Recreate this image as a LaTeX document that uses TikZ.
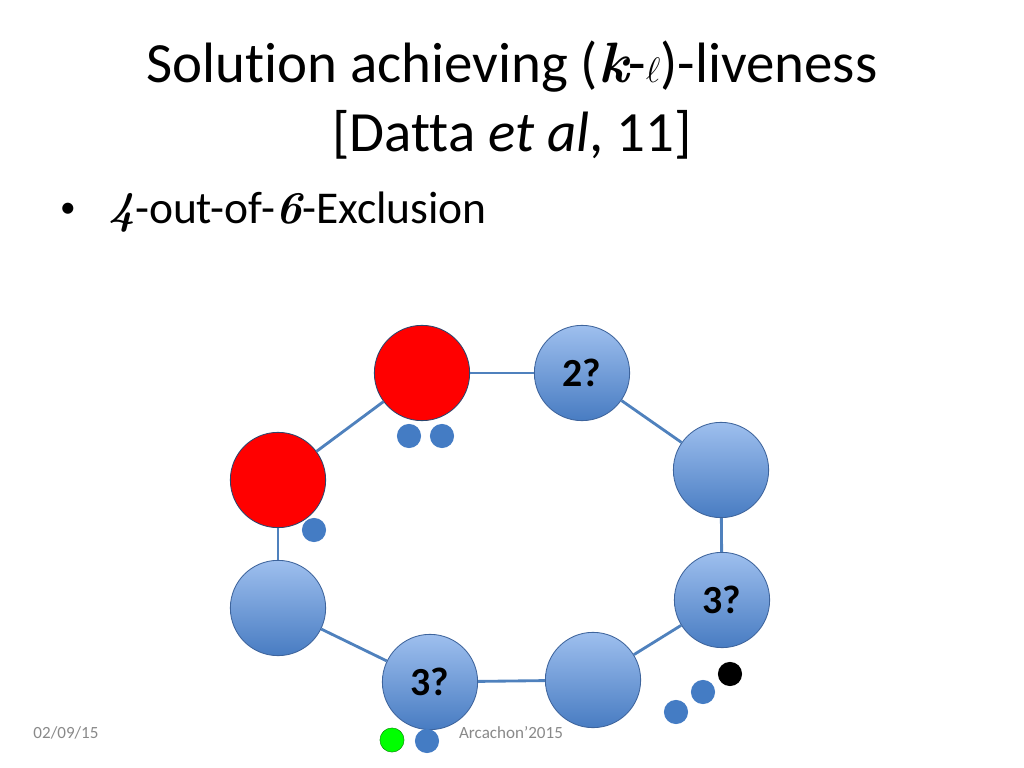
\documentclass[tikz,border=0pt]{standalone}
\usepackage{fontspec}
\setmainfont{Carlito}[Ligatures=NoCommon]
\newfontfamily\handfont{Latin Modern Roman}
\usepackage{tikz}

\definecolor{linkblue}{RGB}{79,129,189}
\definecolor{dotblue}{RGB}{68,124,196}
\definecolor{topblue}{RGB}{158,191,238}
\definecolor{botblue}{RGB}{72,124,194}
\definecolor{rimblue}{RGB}{62,100,156}
\definecolor{footgray}{RGB}{137,137,137}

\tikzset{
  proc/.style={circle,minimum size=67pt,inner sep=0pt,draw=rimblue,line width=.6pt,
    top color=topblue,bottom color=botblue,font=\fontsize{28}{32}\selectfont\bfseries},
  busy/.style={circle,minimum size=67pt,inner sep=0pt,draw=rimblue!70!black,line width=.6pt,fill=red},
  token/.style={circle,minimum size=17pt,inner sep=0pt,fill=dotblue},
  link/.style={draw=linkblue,line width=2pt}
}

\begin{document}
\begin{tikzpicture}[x=0.703125pt,y=-0.703125pt]
  \useasboundingbox (0,0) rectangle (1024,768);
  % title and bullet
  \node[align=center,font=\fontsize{40}{49}\selectfont] (title) at (512,100)
    {Solution achieving ({\handfont\itshape\bfseries k}-$\ell$)-liveness\\{}[Datta \textit{et al}, 11]};
  \node[font=\fontsize{22}{26}\selectfont] (bullet) at (68,210) {\textbullet};
  \node[anchor=west,font=\fontsize{32}{38}\selectfont,inner sep=0pt] (item) at (108,212)
    {{\handfont\itshape\bfseries 4}-out-of-{\handfont\itshape\bfseries 6}-Exclusion};
  % ring of processes
  \node[busy] (p1) at (422,373) {};
  \node[proc] (p2) at (582,373) {2?};
  \node[proc] (p3) at (721,470) {};
  \node[proc] (p4) at (722,600) {3?};
  \node[proc] (p5) at (593,680) {};
  \node[proc] (p6) at (430,682) {3?};
  \node[proc] (p7) at (278,608) {};
  \node[busy] (p8) at (278,480) {};
  \foreach \a/\b in {p1/p2,p2/p3,p3/p4,p4/p5,p5/p6,p6/p7,p7/p8,p8/p1}
    \draw[link] (\a) -- (\b);
  % tokens
  \node[token] (t1) at (409,436) {};
  \node[token] (t2) at (442,436) {};
  \node[token] (t3) at (314,530) {};
  \node[token,fill=green,draw=green!50!black,line width=.3pt] (t4) at (392,740) {};
  \node[token] (t5) at (427,741) {};
  \node[token] (t6) at (676,712) {};
  \node[token] (t7) at (703,692) {};
  \node[token,fill=black] (t8) at (730,674) {};
  % footer
  \node[font=\fontsize{12}{14}\selectfont,text=footgray] (date) at (66,733) {02/09/15};
  \node[font=\fontsize{12}{14}\selectfont,text=footgray] (conf) at (511,733) {Arcachon'2015};
\end{tikzpicture}
\end{document}
